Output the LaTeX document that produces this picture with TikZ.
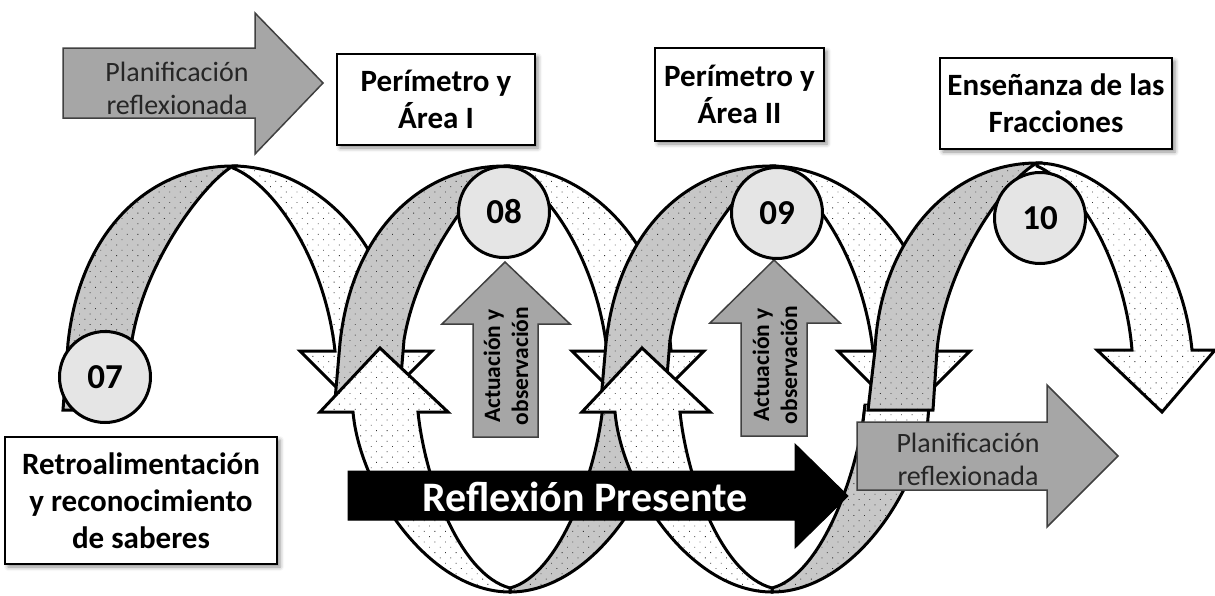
\documentclass[tikz,border=0pt]{standalone}
\usepackage{fontspec}
\setmainfont{Carlito}
\usetikzlibrary{patterns.meta,shadows.blur}

\tikzset{
  outline/.style={draw=black, line width=3pt, line join=miter},
  dotfill/.style={pattern={Dots[distance=7.5pt, radius=0.6pt, angle=45]}, pattern color=black!80},
  graydots/.style={outline, preaction={fill=black!22}, dotfill},
  whitedots/.style={outline, preaction={fill=white}, dotfill},
  grayarrow/.style={fill=black!35, draw=black!75, line width=1.5pt, line join=miter},
  darkarrow/.style={fill=black, draw=black, line width=1pt},
  numcircle/.style={circle, draw=black, line width=3pt, fill=black!10, minimum size=91pt,
    inner sep=0pt, font=\bfseries\fontsize{35}{40}\selectfont},
  labelbox/.style={draw=black, line width=1.6pt, fill=white, align=center, inner sep=0pt,
    font=\bfseries\fontsize{31}{37}\selectfont,
    blur shadow={shadow xshift=3pt, shadow yshift=-3pt, shadow blur radius=4pt, shadow opacity=45}},
  plantext/.style={align=center, text=black!85, font=\fontsize{28}{33}\selectfont},
  acttext/.style={align=center, rotate=90, font=\bfseries\fontsize{23.5}{28}\selectfont},
}

% upper arch: grey rising half, white falling half ending in a down arrowhead
\newcommand\archband[2]{%
  \begin{scope}[xshift=#1pt]
    \path[graydots] (63,#2) -- (68,343) .. controls (80,230) and (150,166) .. (233,166)
      .. controls (205,182) and (145,260) .. (132,340) -- (127,#2) -- cycle;
    \path[whitedots] (233,166) .. controls (305,166) and (390,230) .. (399,351)
      -- (432,351) -- (366,417) -- (300,351) -- (335,351)
      .. controls (325,260) and (275,185) .. (233,168) -- cycle;
  \end{scope}}

% lower loop: grey right arm, white left arm ending in an up arrowhead
\newcommand\lowerloop[1]{%
  \begin{scope}[xshift=#1pt]
    \path[graydots] (510,588) .. controls (560,575) and (597,470) .. (603,405)
      -- (667,405) .. controls (660,490) and (590,592) .. (510,592) -- cycle;
    \path[whitedots] (510,592) .. controls (430,592) and (360,490) .. (353,412)
      -- (320,412) -- (380,348) -- (448,412) -- (418,412)
      .. controls (425,480) and (460,575) .. (510,588) -- cycle;
  \end{scope}}

\begin{document}
\begin{tikzpicture}[x=1pt, y=-1pt]
\useasboundingbox (0,0) rectangle (1215,595);

% the spiral ribbon
\archband{0}{410}
\archband{272}{400}
\archband{538}{400}
\lowerloop{0}
\lowerloop{262}
\path[whitedots, draw=none] (865,405) -- (929,405) -- (927,430) -- (862,430) -- cycle;
\draw[outline] (865,405) -- (862,430);
\draw[outline] (929,405) -- (927,430);

% last arch
\path[graydots] (868,410) -- (875,350) .. controls (880,240) and (950,163) .. (1037,163)
  .. controls (1005,180) and (945,265) .. (937,350) -- (933,410) -- cycle;
\path[whitedots] (1037,163) .. controls (1095,163) and (1180,230) .. (1192,350)
  -- (1215,350) -- (1162,412) -- (1097,350) -- (1132,350)
  .. controls (1125,265) and (1080,185) .. (1037,166) -- cycle;

% Reflexión Presente
\path[darkarrow] (348,471) -- (795,471) -- (795,444) -- (848,496) -- (795,548) -- (795,520) -- (348,520) -- cycle;
\node[text=white, font=\bfseries\fontsize{42}{48}\selectfont] (refl) at (585,497) {Reflexión Presente};

% planning arrows
\path[grayarrow] (63,48) -- (255,48) -- (255,13) -- (323,83) -- (255,154) -- (255,118) -- (63,118) -- cycle;
\node[plantext] (plan1) at (177,88) {Planificación\\reflexionada};
\path[grayarrow] (857,422) -- (1047,422) -- (1047,385) -- (1118,456) -- (1047,527) -- (1047,490) -- (857,490) -- cycle;
\node[plantext] (plan2) at (968,459) {Planificación\\reflexionada};

% action arrows
\path[grayarrow] (473,437) -- (473,324) -- (442,324) -- (505,262) -- (570,324) -- (538,324) -- (538,437) -- cycle;
\node[acttext] (act1) at (506,366) {Actuación y\\observación};
\path[grayarrow] (741,436) -- (741,323) -- (710,323) -- (774,260) -- (840,323) -- (807,323) -- (807,436) -- cycle;
\node[acttext] (act2) at (775,365) {Actuación y\\observación};

% session numbers
\node[numcircle] (c07) at (105,377) {07};
\node[numcircle] (c08) at (504,212) {08};
\node[numcircle] (c09) at (777,213) {09};
\node[numcircle] (c10) at (1040,218) {10};

% topic boxes
\node[labelbox, minimum width=198pt, minimum height=91pt] (t1) at (436,99.5) {Perímetro y\\Área I};
\node[labelbox, minimum width=169pt, minimum height=93pt] (t2) at (739.5,94.5) {Perímetro y\\Área II};
\node[labelbox, minimum width=232pt, minimum height=91pt] (t3) at (1056,103.5) {Enseñanza de las\\Fracciones};
\node[labelbox, minimum width=272pt, minimum height=127pt] (t0) at (141,500.5) {Retroalimentación\\y reconocimiento\\de saberes};
\end{tikzpicture}
\end{document}
